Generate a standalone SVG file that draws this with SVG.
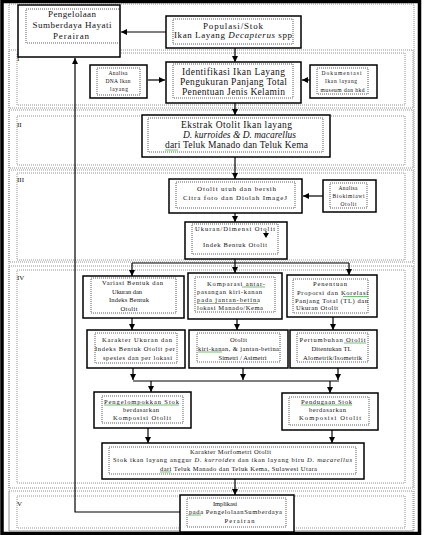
<svg xmlns="http://www.w3.org/2000/svg" width="424" height="535" viewBox="0 0 424 535">
<defs>
<style>
.box{fill:#fff;stroke:#000;stroke-width:1.5}
.inner{fill:none;stroke:#333;stroke-width:0.8;stroke-dasharray:1 1}
.sec{fill:none;stroke:#777;stroke-width:0.8;stroke-dasharray:1 1}
.conn{fill:none;stroke:#000;stroke-width:1.2}
.sp{fill:none;stroke:#3a3;stroke-width:0.7}
text{font-family:"Liberation Serif","Times New Roman",serif;fill:#111;text-anchor:middle}
.lbl{text-anchor:start;font-size:7px}
</style>
<marker id="ah" markerUnits="userSpaceOnUse" markerWidth="6" markerHeight="6" refX="6" refY="3" orient="auto">
<path d="M0,0 L6,3 L0,6 z" fill="#000"/>
</marker>
</defs>
<rect x="0" y="0" width="424" height="535" fill="#fff"/>
<rect x="2" y="1.5" width="417.5" height="532" fill="none" stroke="#000" stroke-width="3.5"/>
<rect x="9" y="4" width="405" height="527" class="sec"/>
<g id="sections">
<rect x="9" y="50" width="404" height="58" class="sec"/>
<rect x="17" y="53" width="388" height="52" class="sec"/>
<text x="17" y="61" class="lbl">I</text>
<rect x="9" y="110" width="404" height="58" class="sec"/>
<rect x="17" y="116" width="388" height="49" class="sec"/>
<text x="17" y="127" class="lbl">II</text>
<rect x="9" y="170" width="404" height="92" class="sec"/>
<rect x="17" y="173" width="388" height="87" class="sec"/>
<text x="17" y="182" class="lbl">III</text>
<rect x="9" y="266" width="404" height="222" class="sec"/>
<rect x="17" y="270" width="388" height="213" class="sec"/>
<text x="17" y="280" class="lbl">IV</text>
<rect x="9" y="491" width="404" height="40" class="sec"/>
<rect x="17" y="496" width="388" height="32" class="sec"/>
<text x="17" y="506" class="lbl">V</text>
</g>
<g id="connectors">
<path class="conn" d="M166,32 H121" marker-end="url(#ah)"/>
<path class="conn" d="M180,512 H75 V58" marker-end="url(#ah)"/>
<path class="conn" d="M235,48 V62" marker-end="url(#ah)"/>
<path class="conn" d="M148,80 H165" marker-end="url(#ah)"/>
<path class="conn" d="M310,80 H302" marker-end="url(#ah)"/>
<path class="conn" d="M235,103 V115" marker-end="url(#ah)"/>
<path class="conn" d="M235,157 V179" marker-end="url(#ah)"/>
<path class="conn" d="M323,196 H303" marker-end="url(#ah)"/>
<path class="conn" d="M235,213 V222" marker-end="url(#ah)"/>
<path class="conn" d="M235,259 V263 M132,263 H349"/>
<path class="conn" d="M132,263 V276" marker-end="url(#ah)"/>
<path class="conn" d="M235,263 V273" marker-end="url(#ah)"/>
<path class="conn" d="M349,263 V275" marker-end="url(#ah)"/>
<path class="conn" d="M132,318 V330" marker-end="url(#ah)"/>
<path class="conn" d="M237,319 V330" marker-end="url(#ah)"/>
<path class="conn" d="M333,317 V330" marker-end="url(#ah)"/>
<path class="conn" d="M133,368 V380" marker-end="url(#ah)"/>
<path class="conn" d="M243,368 V380" marker-end="url(#ah)"/>
<path class="conn" d="M338,368 V380" marker-end="url(#ah)"/>
<path class="conn" d="M133,381 H339"/>
<path class="conn" d="M151,381 V392" marker-end="url(#ah)"/>
<path class="conn" d="M330,381 V393" marker-end="url(#ah)"/>
<path class="conn" d="M148,428 V443" marker-end="url(#ah)"/>
<path class="conn" d="M332,430 V443" marker-end="url(#ah)"/>
<path class="conn" d="M235,479 V495" marker-end="url(#ah)"/>
</g>
<g id="pengelolaan">
<rect x="18" y="5" width="102" height="52" class="box"/>
<rect x="26" y="9" width="94" height="34" class="inner"/>
<text x="72" y="17" font-size="9" textLength="48">Pengelolaan</text>
<text x="72" y="28" font-size="9" textLength="79">Sumberdaya Hayati</text>
<text x="71" y="39" font-size="9" textLength="36">Perairan</text>
</g>
<g id="populasi">
<rect x="166" y="16" width="135" height="32" class="box"/>
<rect x="173" y="19" width="120" height="25" class="inner"/>
<text x="233" y="29" font-size="9" textLength="60">Populasi/Stok</text>
<text x="233" y="38" font-size="9" textLength="118">Ikan Layang <tspan font-style="italic">Decapterus</tspan> spp</text>
</g>
<g id="analisa-dna">
<rect x="90" y="65" width="57" height="33" class="box"/>
<rect x="97" y="68" width="43" height="27" class="inner"/>
<text x="118" y="75" font-size="5.5" textLength="19">Analisa</text>
<text x="118" y="83" font-size="5.5" textLength="25">DNA Ikan</text>
<text x="119" y="91" font-size="5.5" textLength="18">layang</text>
</g>
<g id="identifikasi">
<rect x="166" y="62" width="135" height="41" class="box"/>
<rect x="173" y="64" width="120" height="34" class="inner"/>
<text x="233.5" y="74.5" font-size="9.5" textLength="103">Identifikasi Ikan Layang</text>
<text x="233.5" y="84.5" font-size="9.5" textLength="107">Pengukuran Panjang Total</text>
<text x="233.5" y="94.5" font-size="9.5" textLength="103">Penentuan Jenis Kelamin</text>
</g>
<g id="dokumentasi">
<rect x="310" y="65" width="67" height="33" class="box"/>
<rect x="317" y="68" width="51" height="26" class="inner"/>
<text x="341.5" y="75" font-size="5.5" textLength="40">Dokumentasi</text>
<text x="341" y="83" font-size="5.5" textLength="32">Ikan layang</text>
<text x="342.5" y="91.5" font-size="5.5" textLength="44">museum dan hkd</text>
</g>
<g id="ekstrak">
<rect x="142" y="115" width="188" height="42" class="box"/>
<rect x="148" y="118" width="175" height="34" class="inner"/>
<text x="236.5" y="128" font-size="9.5" textLength="111">Ekstrak Otolit Ikan layang</text>
<text x="239.5" y="138" font-size="9.5" font-style="italic" textLength="113">D. kurroides &amp; D. macarellus</text>
<text x="236.5" y="148" font-size="9.5" textLength="143">dari Teluk Manado dan Teluk Kema</text>
<path class="sp" d="M165,150 H178"/>
</g>
<g id="otolit-utuh">
<rect x="169" y="179" width="133" height="34" class="box"/>
<rect x="176" y="182" width="119" height="26" class="inner"/>
<text x="236.5" y="190.5" font-size="7" textLength="79">Otolit utuh dan bersih</text>
<text x="235" y="199.5" font-size="7" textLength="104">Citra foto dan Diolah ImageJ</text>
</g>
<g id="biokimiawi">
<rect x="323" y="180" width="53" height="32" class="box"/>
<rect x="330" y="183" width="37" height="25" class="inner"/>
<text x="348" y="190" font-size="5.5" textLength="19">Analisa</text>
<text x="348.5" y="198" font-size="5.5" textLength="32">Biokimiawi</text>
<text x="348.5" y="205.5" font-size="5.5" textLength="16">Otolit</text>
</g>
<g id="ukuran">
<rect x="185" y="222" width="102" height="37" class="box"/>
<rect x="192" y="224" width="86" height="30" class="inner"/>
<text x="235" y="230.5" font-size="6.5" textLength="80">Ukuran/Dimensi Otolit</text>
<path d="M266,231 V234" stroke="#000" stroke-width="1"/>
<path d="M263,233 L266,238 L269,233 z" fill="#000"/>
<text x="235" y="246.5" font-size="6.5" textLength="64">Indek Bentuk Otolit</text>
</g>
<g id="variasi">
<rect x="83" y="276" width="101" height="42" class="box"/>
<rect x="91" y="278" width="85" height="35" class="inner"/>
<text x="132.5" y="285" font-size="6.5" textLength="61">Variasi Bentuk dan</text>
<text x="127" y="294" font-size="6.5" textLength="30">Ukuran dan</text>
<text x="129" y="302" font-size="6.5" textLength="40">Indeks Bentuk</text>
<text x="129" y="310.5" font-size="6.5" textLength="17">Otolit</text>
</g>
<g id="komparasi">
<rect x="188" y="273" width="94" height="46" class="box"/>
<rect x="195" y="277" width="80" height="35" class="inner"/>
<text x="236" y="285.5" font-size="6.5" textLength="58">Komparasi antar-</text>
<text x="197" y="294" font-size="6.5" textLength="65" style="text-anchor:start">pasangan kiri-kanan</text>
<text x="197" y="302" font-size="6.5" textLength="63" style="text-anchor:start">pada jantan-betina</text>
<text x="197" y="310" font-size="6.5" textLength="66" style="text-anchor:start">lokasi Manado/Kema</text>
<path class="sp" d="M242,287 H265 M197,303.5 H258"/>
</g>
<g id="penentuan">
<rect x="287" y="275" width="90" height="42" class="box"/>
<rect x="293" y="279" width="75" height="34" class="inner"/>
<text x="330" y="286" font-size="6.5" textLength="34">Penentuan</text>
<text x="332.5" y="295" font-size="6.5" textLength="71">Proporsi dan Korelasi</text>
<text x="331.5" y="302.5" font-size="6.5" textLength="73">Panjang Total (TL) dan</text>
<text x="296" y="310" font-size="6.5" textLength="42" style="text-anchor:start">Ukuran Otolit</text>
<path class="sp" d="M343,296.5 H368"/>
</g>
<g id="karakter-ukuran">
<rect x="87" y="330" width="98" height="38" class="box"/>
<rect x="95" y="333" width="82" height="30" class="inner"/>
<text x="137" y="341.5" font-size="6.5" textLength="70">Karakter Ukuran dan</text>
<text x="135" y="350.5" font-size="6.5" textLength="80">Indeks Bentuk Otolit per</text>
<text x="137.5" y="359.5" font-size="6.5" textLength="69">spesies dan per lokasi</text>
</g>
<g id="otolit-simetri">
<rect x="189" y="330" width="99" height="38" class="box"/>
<rect x="197" y="333" width="83" height="29" class="inner"/>
<text x="238.5" y="341.5" font-size="6.5" textLength="17">Otolit</text>
<text x="238.5" y="350.5" font-size="6.5" textLength="81">kiri-kanan, &amp; jantan-betina</text>
<text x="242.5" y="359.5" font-size="6.5" textLength="48">Simetri / Asimetri</text>
<path class="sp" d="M198,352 H222"/>
</g>
<g id="pertumbuhan">
<rect x="290" y="330" width="87" height="38" class="box"/>
<rect x="297" y="333" width="71" height="29" class="inner"/>
<text x="332.5" y="341.5" font-size="6.5" textLength="66">Pertumbuhan Otolit</text>
<text x="331.5" y="350.5" font-size="6.5" textLength="40">Ditentukan TL</text>
<text x="332.5" y="359.5" font-size="6.5" textLength="59">Alometrik/Isometrik</text>
<path class="sp" d="M344,343 H366"/>
</g>
<g id="pengelompokkan">
<rect x="94" y="392" width="97" height="36" class="box"/>
<rect x="102" y="396" width="81" height="27" class="inner"/>
<text x="141.5" y="403.5" font-size="6.5" textLength="75">Pengelompokkan Stok</text>
<text x="141" y="411.5" font-size="6.5" textLength="36">berdasarkan</text>
<text x="142" y="420" font-size="6.5" textLength="58">Komposisi Otolit</text>
<path class="sp" d="M104,405 H179"/>
</g>
<g id="pendugaan">
<rect x="282" y="393" width="96" height="37" class="box"/>
<rect x="289" y="397" width="80" height="28" class="inner"/>
<text x="326.5" y="403.5" font-size="6.5" textLength="51">Pendugaan Stok</text>
<text x="327.5" y="411.5" font-size="6.5" textLength="37">berdasarkan</text>
<text x="330" y="420" font-size="6.5" textLength="62">Komposisi Otolit</text>
<path class="sp" d="M301,405 H352"/>
</g>
<g id="karakter-morfometri">
<rect x="102" y="443" width="262" height="36" class="box"/>
<rect x="109" y="447" width="247" height="27" class="inner"/>
<text x="230.5" y="453.5" font-size="6.5" textLength="81">Karakter Morfometri Otolit</text>
<text x="232.5" y="462" font-size="6.5" textLength="239">Stok ikan layang anggur <tspan font-style="italic">D. kurroides</tspan> dan ikan layang biru <tspan font-style="italic">D. macarellus</tspan></text>
<text x="238.5" y="470.5" font-size="6.5" textLength="157">dari Teluk Manado dan Teluk Kema, Sulawesi Utara</text>
<path class="sp" d="M160,472 H171"/>
</g>
<g id="implikasi">
<rect x="180" y="495" width="114" height="37" class="box"/>
<rect x="187" y="498" width="99" height="29" class="inner"/>
<text x="225" y="505.5" font-size="6.5" textLength="24">Implikasi</text>
<text x="235.5" y="513.5" font-size="6.5" textLength="93">pada PengelolaanSumberdaya</text>
<text x="239.5" y="522.5" font-size="6.5" textLength="30">Perairan</text>
<path class="sp" d="M188,515 H201"/>
</g>
</svg>
